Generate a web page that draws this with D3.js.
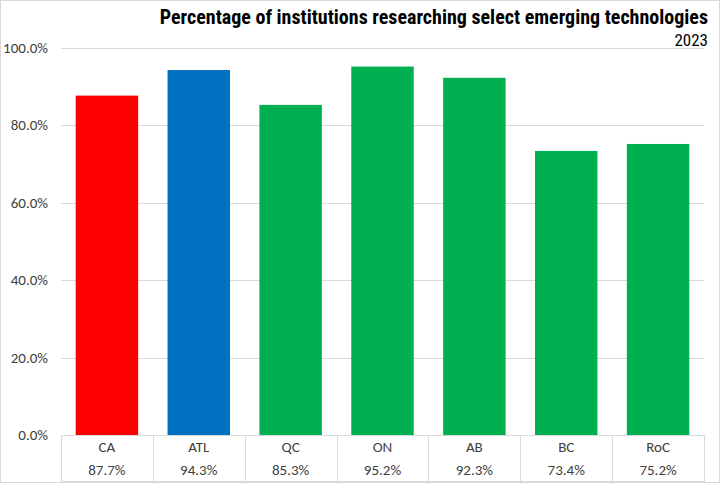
<!DOCTYPE html>
<html><head><meta charset="utf-8">
<script src="https://cdn.jsdelivr.net/npm/d3@7"></script>
<style>body{margin:0;background:#fff}svg{display:block}</style>
</head><body><svg id="c" width="720" height="483"></svg>
<script>
const categories = ["CA","ATL","QC","ON","AB","BC","RoC"];
const values = [87.7,94.3,85.3,95.2,92.3,73.4,75.2];
const colors = ["#FF0000","#0070C0","#00B050","#00B050","#00B050","#00B050","#00B050"];
const yTicks = [0,20,40,60,80,100];
const title = "Percentage of institutions researching select emerging technologies";
const subtitle = "2023";

const svg = d3.select("#c");
const W = 720, H = 483;
const m = {left:61, right:704, top:48, bottom:435};
const font = "Calibri, Carlito, 'Liberation Sans', sans-serif";
const tfont = "'Roboto Condensed', 'Liberation Sans Narrow', sans-serif";
svg.append("rect").attr("x",0.5).attr("y",0.5).attr("width",W-1).attr("height",H-1)
  .attr("fill","#fff").attr("stroke","#d9d9d9");

const x = d3.scaleBand().domain(categories).range([m.left,m.right]).paddingInner(0.32).paddingOuter(0.16);
const xb = d3.scaleBand().domain(categories).range([m.left,m.right]);
const y = d3.scaleLinear().domain([0,100]).range([m.bottom,m.top]);

svg.append("g").selectAll("line").data(yTicks).join("line")
  .attr("x1",m.left).attr("x2",m.right)
  .attr("y1",d=>Math.round(y(d))+0.5).attr("y2",d=>Math.round(y(d))+0.5)
  .attr("stroke","#d9d9d9").attr("stroke-width",1);

svg.append("g").selectAll("text").data(yTicks).join("text")
  .attr("x",48).attr("y",d=>y(d)+5).attr("text-anchor","end")
  .attr("font-family",font).attr("font-size",15).attr("fill","#404040")
  .text(d=>d3.format(".1f")(d)+"%");

svg.append("g").selectAll("rect").data(values).join("rect")
  .attr("x",(d,i)=>x(categories[i])).attr("width",x.bandwidth())
  .attr("y",d=>y(d)).attr("height",d=>y(0)-y(d))
  .attr("fill",(d,i)=>colors[i]);

const tb = svg.append("g");
const bottomY = 481.5;
const seps = categories.map(c=>xb(c)).concat([m.right]);
tb.selectAll("line.v").data(seps).join("line").attr("class","v")
  .attr("x1",d=>Math.round(d)+0.5).attr("x2",d=>Math.round(d)+0.5)
  .attr("y1",m.bottom).attr("y2",bottomY).attr("stroke","#d9d9d9");
tb.append("line").attr("x1",m.left).attr("x2",m.right+0.5).attr("y1",bottomY).attr("y2",bottomY).attr("stroke","#d9d9d9");
tb.selectAll("text.cat").data(categories).join("text").attr("class","cat")
  .attr("x",d=>xb(d)+xb.bandwidth()/2).attr("y",452).attr("text-anchor","middle")
  .attr("font-family",font).attr("font-size",15).attr("fill","#404040")
  .text(d=>d);
tb.selectAll("text.val").data(values).join("text").attr("class","val")
  .attr("x",(d,i)=>xb(categories[i])+xb.bandwidth()/2).attr("y",475).attr("text-anchor","middle")
  .attr("font-family",font).attr("font-size",15).attr("fill","#404040")
  .text(d=>d3.format(".1f")(d)+"%");

svg.append("text").attr("x",708).attr("y",24).attr("text-anchor","end")
  .attr("font-family",tfont)
  .attr("font-weight","bold").attr("font-size",20).attr("fill","#000")
  .text(title);
svg.append("text").attr("x",708).attr("y",46).attr("text-anchor","end")
  .attr("font-family",tfont)
  .attr("font-size",17).attr("fill","#000")
  .text(subtitle);
</script></body></html>
